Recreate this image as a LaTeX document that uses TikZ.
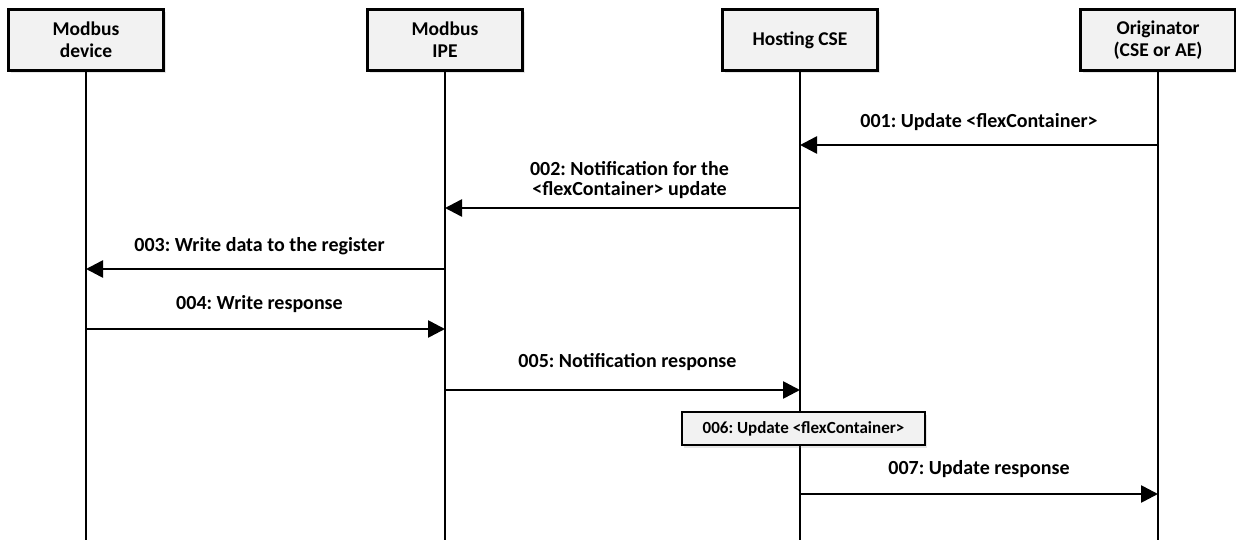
\documentclass[tikz,border=0pt]{standalone}
\usepackage{fontspec}
\setmainfont{Carlito}
\usetikzlibrary{arrows.meta,shadows}
\frenchspacing

\definecolor{boxgray}{HTML}{F2F2F2}

\tikzset{
	head/.style={draw=black,line width=2.5pt,fill=boxgray,minimum width=155pt,minimum height=61pt,
		align=center,font=\fontsize{19.5}{22}\selectfont\bfseries,
		drop shadow={opacity=0.2,shadow xshift=2pt,shadow yshift=-3pt}},
	local/.style={draw=black,line width=1.6pt,fill=boxgray,minimum width=243pt,minimum height=33pt,
		font=\fontsize{17}{20}\selectfont\bfseries,
		drop shadow={opacity=0.2,shadow xshift=2pt,shadow yshift=-3pt}},
	life/.style={line width=2.8pt},
	msg/.style={line width=2.6pt,-{Triangle[length=17pt,width=17pt]}},
	lbl/.style={align=center,anchor=base,inner sep=0pt,font=\fontsize{20}{20}\selectfont\bfseries}
}

\begin{document}
\begin{tikzpicture}[x=1pt,y=-1pt]
	\useasboundingbox (0,0) rectangle (1236,540);
	% lifeline heads
	\node[head] (dev) at (86,40) {Modbus\\device};
	\node[head] (ipe) at (445,40) {Modbus\\IPE};
	\node[head] (cse) at (800,40) {Hosting CSE};
	\node[head] (orig) at (1158,40) {Originator\\(CSE or AE)};
	% bottom ends
	\coordinate (bot) at (0,540);
	\draw[life] (dev) -- (dev |- bot);
	\draw[life] (ipe) -- (ipe |- bot);
	\draw[life] (cse) -- (cse |- bot);
	\draw[life] (orig) -- (orig |- bot);
	% message heights
	\coordinate (m1) at (0,145);
	\coordinate (m2) at (0,208);
	\coordinate (m3) at (0,269);
	\coordinate (m4) at (0,329);
	\coordinate (m5) at (0,390);
	\coordinate (m7) at (0,494);
	% messages
	\draw[msg] (orig |- m1) -- node[lbl,yshift=17pt] (l1) {001: Update <flexContainer>} (cse |- m1);
	\draw[msg] (cse |- m2) -- node[lbl,yshift=12pt,xshift=7pt] (l2) {002: Notification for the\\<flexContainer> update} (ipe |- m2);
	\draw[msg] (ipe |- m3) -- node[lbl,yshift=18pt,xshift=-6pt] (l3) {003: Write data to the register} (dev |- m3);
	\draw[msg] (dev |- m4) -- node[lbl,yshift=20pt,xshift=-6pt] (l4) {004: Write response} (ipe |- m4);
	\draw[msg] (ipe |- m5) -- node[lbl,yshift=23pt,xshift=5pt] (l5) {005: Notification response} (cse |- m5);
	\node[local] (upd) at (803.5,428.5) {006: Update <flexContainer>};
	\draw[msg] (cse |- m7) -- node[lbl,yshift=20pt] (l7) {007: Update response} (orig |- m7);
\end{tikzpicture}
\end{document}
